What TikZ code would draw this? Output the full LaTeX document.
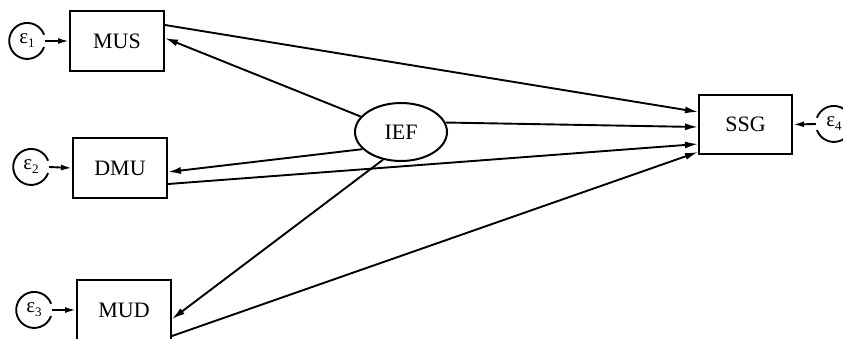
\documentclass[tikz,border=0pt]{standalone}
\usepackage{fontspec}
\setmainfont{Liberation Serif}
\usetikzlibrary{shapes.geometric,arrows.meta}
\newcommand{\errlabel}[1]{ε\raisebox{-4pt}{\fontsize{13}{14}\selectfont#1}}
\begin{document}
\begin{tikzpicture}[x=1pt,y=-1pt,
  every node/.style={font=\fontsize{22}{26}\selectfont},
  var/.style={draw,line width=2pt,rectangle,minimum width=94pt,minimum height=60pt,inner sep=0pt},
  latent/.style={draw,line width=2pt,ellipse,minimum width=92pt,minimum height=58pt,inner sep=0pt},
  err/.style={circle,minimum size=36pt,inner sep=0pt,font=\fontsize{21}{24}\selectfont},
  path/.style={line width=1.9pt,-{Latex[length=13pt,width=7pt]}},
  errpath/.style={line width=1.9pt,-{Latex[length=11pt,width=6pt]}}]
\useasboundingbox (0,0) rectangle (843,338);
\clip (0,0) rectangle (843,338);

% observed variables
\node[var] (MUS) at (117,41) {MUS};
\node[var] (DMU) at (120,168) {DMU};
\node[var] (MUD) at (124,310) {MUD};
\node[var,minimum width=93pt,minimum height=59pt] (SSG) at (745.5,124.5) {SSG};
% latent factor
\node[latent] (IEF) at (401,132) {IEF};

% error terms
\node[err] (e1) at (27,41) {\errlabel{1}};
\node[err] (e2) at (31,167) {\errlabel{2}};
\node[err] (e3) at (34,310) {\errlabel{3}};
\node[err] (e4) at (834,124) {\errlabel{4}};
\foreach \e in {e1,e2,e3}
  \draw[line width=1.9pt] (\e.20) arc[start angle=20,end angle=340,radius=18pt];
\draw[line width=1.9pt] (e4.160) arc[start angle=160,end angle=-160,radius=18pt];

\draw[errpath] (e1.east) -- (MUS.west);
\draw[errpath] (e2.east) -- (DMU.west);
\draw[errpath] (e3.east) -- (MUD.west);
\draw[errpath] (e4.west) -- (SSG.east);

% structural paths
\draw[path] (IEF.159) -- ([yshift=3pt]MUS.east);
\draw[path] (IEF.204) -- ([yshift=-4pt]DMU.east);
\draw[path] (IEF.237) -- ([yshift=-9pt]MUD.east);
\draw[path] (IEF.12) -- ([yshift=-2.5pt]SSG.west);
\draw[path] ([yshift=16pt]MUS.east) -- ([yshift=12.5pt]SSG.west);
\draw[path] ([yshift=-16pt]DMU.east) -- ([yshift=-19.5pt]SSG.west);
\draw[path] ([yshift=-26pt]MUD.east) -- ([yshift=-27.5pt]SSG.west);
\end{tikzpicture}
\end{document}
